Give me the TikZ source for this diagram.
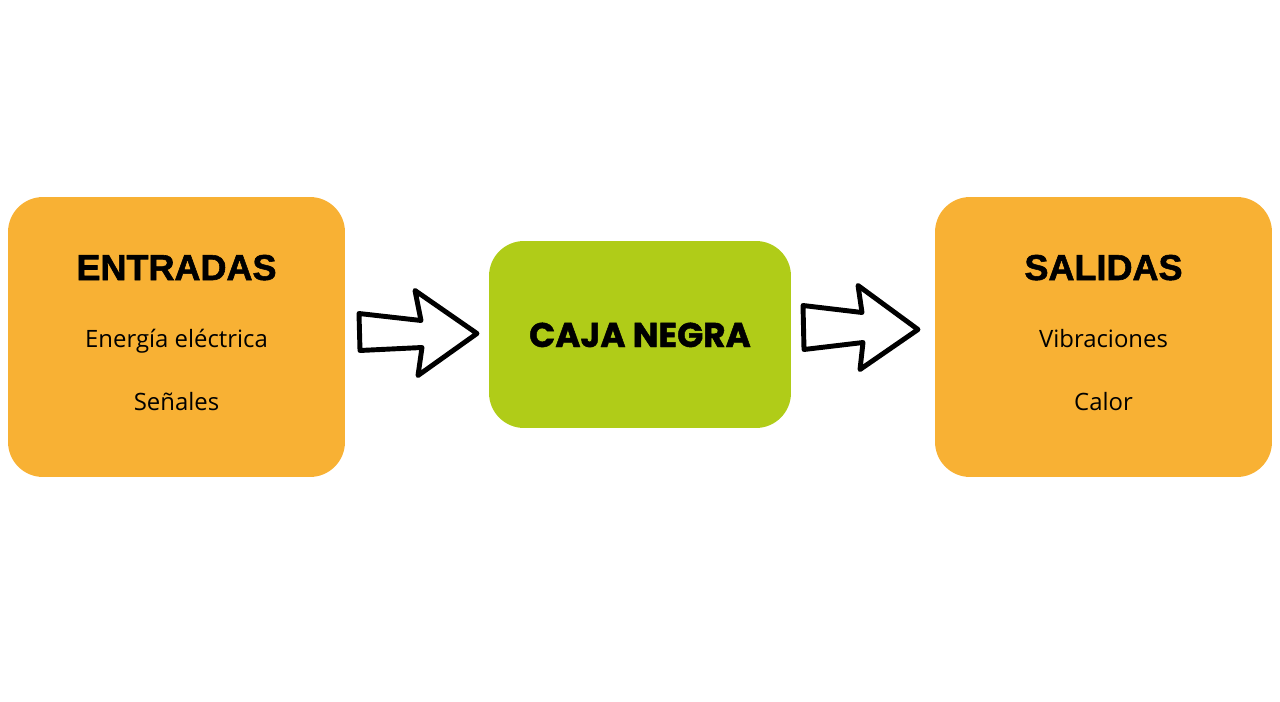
\documentclass[tikz,border=0pt]{standalone}
\usepackage{fontspec}
\setmainfont{Open Sans}
\newfontfamily\titlefont[BoldFeatures={FakeBold=1.6}]{Liberation Sans}
\newfontfamily\cajafont[BoldFeatures={FakeBold=1.4}]{Poppins}
\usetikzlibrary{calc}
\definecolor{boxorange}{RGB}{248,177,52}
\definecolor{boxgreen}{RGB}{176,204,24}

\begin{document}
\begin{tikzpicture}[x=0.02cm, y=-0.02cm,
    sidebox/.style = {fill=boxorange, rounded corners=0.7cm, minimum width=6.74cm, minimum height=5.6cm},
    midbox/.style = {fill=boxgreen, rounded corners=0.7cm, minimum width=6.04cm, minimum height=3.74cm},
    title/.style = {anchor=base, font=\titlefont\bfseries\fontsize{20.5}{24}\selectfont},
    item/.style = {anchor=base, font=\fontsize{13.6}{16}\selectfont},
    blockarrow/.style = {draw=black, fill=white, line width=2.8pt, line join=round}]
    \useasboundingbox (0,0) rectangle (1280,702);

    \node[sidebox] (ENT) at (176.5,337) {};
    \node[midbox] (CAJA) at (640,334.5) {};
    \node[sidebox] (SAL) at (1103.5,337) {};

    \node[title] (entT) at (176.5,280) {ENTRADAS};
    \node[item] (ent1) at (176.5,347) {Energía eléctrica};
    \node[item] (ent2) at (176.5,410) {Señales};
    \node[anchor=base, font=\cajafont\bfseries\fontsize{19.5}{23}\selectfont] (cajaT) at (640,347) {CAJA NEGRA};
    \node[title] (salT) at (1103.5,280) {SALIDAS};
    \node[item] (sal1) at (1103.5,347) {Vibraciones};
    \node[item] (sal2) at (1103.5,410) {Calor};

    \coordinate (A1) at ($(ENT.east |- CAJA.center)!0.5!(CAJA.west)$);
    \coordinate (A2) at ($(CAJA.east)!0.5!(SAL.west |- CAJA.center)$);

    % hand drawn block arrows
    \draw[blockarrow, shift={(A1)}]
    (-58,-21) -- (4,-14) -- (-2,-44) -- (60,-1) -- (1,41) -- (5,13) -- (-57,16) -- cycle;
    \draw[blockarrow, shift={(A2)}]
    (-60,-29) -- (-1,-22) -- (-5,-49) -- (55,-5) -- (-3,35) -- (0,8) -- (-59,15) -- cycle;
\end{tikzpicture}
\end{document}
